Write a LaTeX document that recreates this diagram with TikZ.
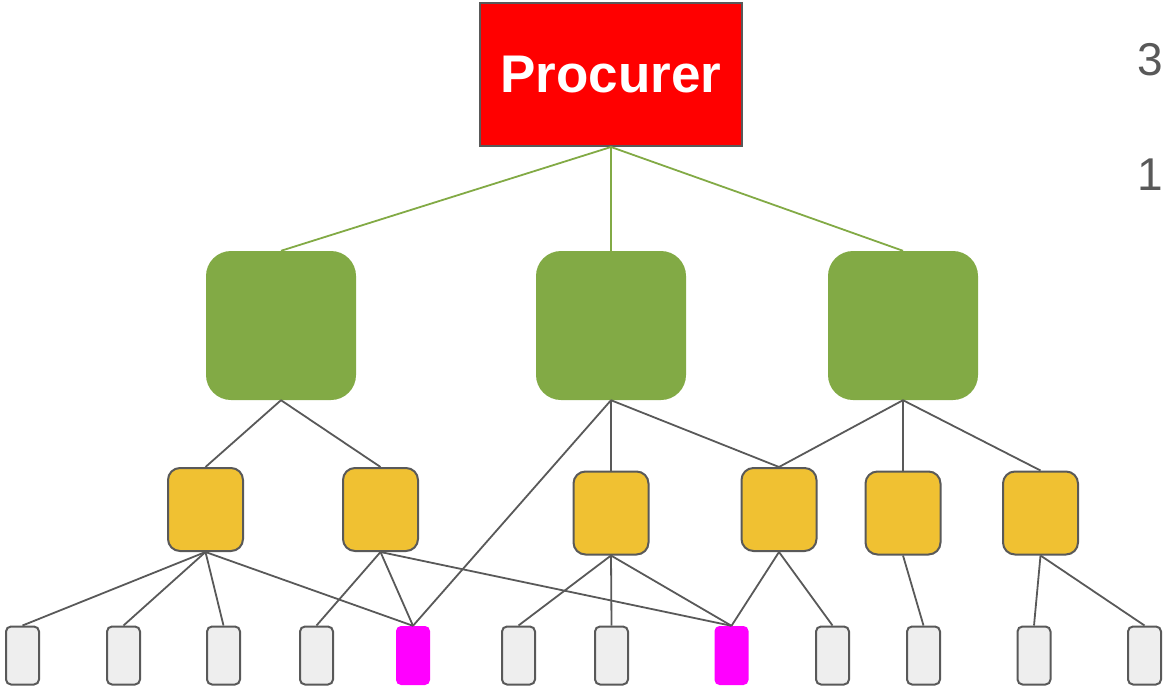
\documentclass[tikz,border=0pt]{standalone}
\usepackage{fontspec}
\setmainfont{Liberation Sans}
\definecolor{procred}{HTML}{FF0000}
\definecolor{leafgreen}{HTML}{82AA45}
\definecolor{midyellow}{HTML}{F0C132}
\definecolor{tipgray}{HTML}{EEEEEE}
\definecolor{edgegray}{HTML}{595959}
\definecolor{hotpink}{HTML}{FF00FF}
\begin{document}
\begin{tikzpicture}[x=1pt,y=-1pt,
  procbox/.style={draw=edgegray,line width=2pt,fill=procred,minimum width=262pt,minimum height=143pt,inner sep=0pt,
    text=white,font=\bfseries\fontsize{53}{60}\selectfont},
  topbox/.style={fill=leafgreen,rounded corners=25pt,minimum width=150pt,minimum height=149pt,inner sep=0pt},
  midbox/.style={draw=edgegray,line width=2pt,fill=midyellow,rounded corners=12pt,minimum width=75pt,minimum height=83pt,inner sep=0pt},
  tipbox/.style={draw=edgegray,line width=2pt,fill=tipgray,rounded corners=5pt,minimum width=33pt,minimum height=58pt,inner sep=0pt},
  hotbox/.style={fill=hotpink,rounded corners=5pt,minimum width=34pt,minimum height=59pt,inner sep=0pt},
  greenlink/.style={draw=leafgreen,line width=1.8pt},
  graylink/.style={draw=edgegray,line width=1.8pt},
  sidenum/.style={text=edgegray,font=\fontsize{46}{50}\selectfont,inner sep=0pt}]
\useasboundingbox (0,0) rectangle (1164,688);

% procurer at the root
\node[procbox] (proc) at (611,74.5) {Procurer};

% first tier
\node[topbox] (g1) at (281,325.5) {};
\node[topbox] (g2) at (611,325.5) {};
\node[topbox] (g3) at (903,325.5) {};

% second tier
\node[midbox] (y1) at (205.5,509.5) {};
\node[midbox] (y2) at (380.5,509.5) {};
\node[midbox] (y3) at (611,513) {};
\node[midbox] (y4) at (779,509.5) {};
\node[midbox] (y5) at (903,513) {};
\node[midbox] (y6) at (1040.5,513) {};

% leaves
\node[tipbox] (b1) at (22.5,655.5) {};
\node[tipbox] (b2) at (123.5,655.5) {};
\node[tipbox] (b3) at (223.5,655.5) {};
\node[tipbox] (b4) at (316.5,655.5) {};
\node[hotbox] (b5) at (413,655.5) {};
\node[tipbox] (b6) at (518.5,655.5) {};
\node[tipbox] (b7) at (611.5,655.5) {};
\node[hotbox] (b8) at (731.5,655.5) {};
\node[tipbox] (b9) at (832.5,655.5) {};
\node[tipbox] (b10) at (923.5,655.5) {};
\node[tipbox] (b11) at (1034,655.5) {};
\node[tipbox] (b12) at (1144.5,655.5) {};

% side numbers
\node[sidenum] (n3) at (1150,60) {3};
\node[sidenum] (n1) at (1150,175) {1};

% links from the procurer
\path[greenlink] (proc.south) -- (g1.north);
\path[greenlink] (proc.south) -- (g2.north);
\path[greenlink] (proc.south) -- (g3.north);

% links below the first tier
\path[graylink] (g1.south) -- (y1.north);
\path[graylink] (g1.south) -- (y2.north);
\path[graylink] (g2.south) -- (b5.north);
\path[graylink] (g2.south) -- (y3.north);
\path[graylink] (g2.south) -- (y4.north);
\path[graylink] (g3.south) -- (y4.north);
\path[graylink] (g3.south) -- (y5.north);
\path[graylink] (g3.south) -- (y6.north);

% links below the second tier
\path[graylink] (y1.south) -- (b1.north);
\path[graylink] (y1.south) -- (b2.north);
\path[graylink] (y1.south) -- (b3.north);
\path[graylink] (y1.south) -- (b5.north);
\path[graylink] (y2.south) -- (b4.north);
\path[graylink] (y2.south) -- (b5.north);
\path[graylink] (y2.south) -- (b8.north);
\path[graylink] (y3.south) -- (b6.north);
\path[graylink] (y3.south) -- (b7.north);
\path[graylink] (y3.south) -- (b8.north);
\path[graylink] (y4.south) -- (b8.north);
\path[graylink] (y4.south) -- (b9.north);
\path[graylink] (y5.south) -- (b10.north);
\path[graylink] (y6.south) -- (b11.north);
\path[graylink] (y6.south) -- (b12.north);
\end{tikzpicture}
\end{document}
